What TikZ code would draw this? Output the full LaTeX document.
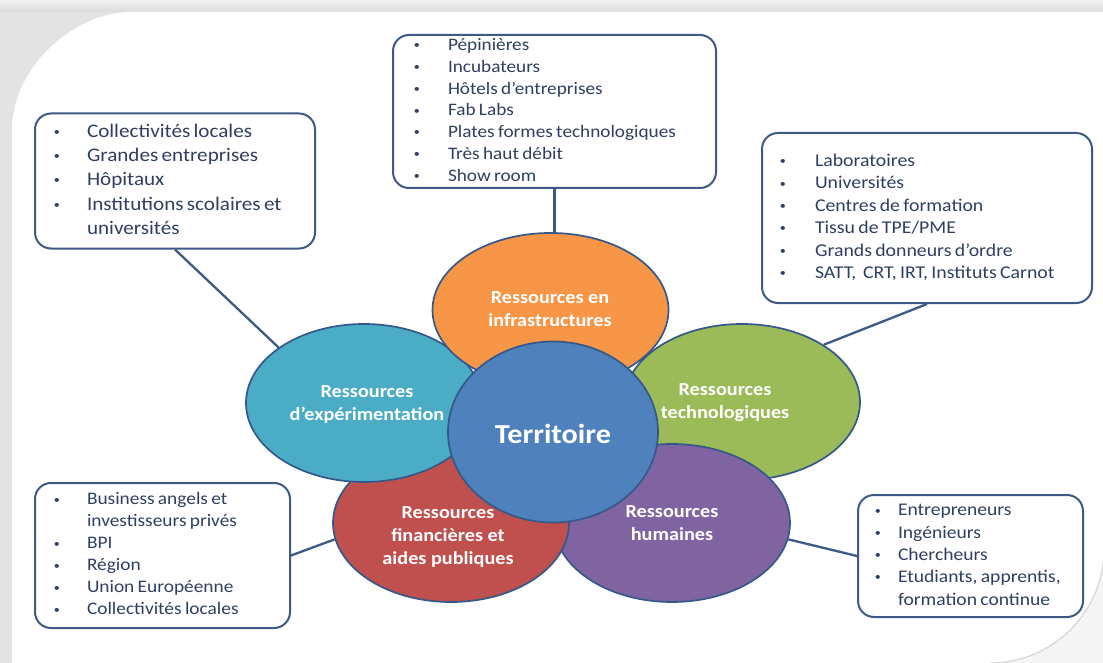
\documentclass[tikz,border=0pt]{standalone}
\usepackage{fontspec}
\setmainfont{Carlito}[FakeStretch=1.1]
\usetikzlibrary{shapes.geometric}
\definecolor{corange}{HTML}{F79646}
\definecolor{cteal}{HTML}{4BACC6}
\definecolor{cgreen}{HTML}{9BBB59}
\definecolor{cred}{HTML}{C0504D}
\definecolor{cpurple}{HTML}{8064A2}
\definecolor{cblue}{HTML}{4F81BD}
\definecolor{cline}{HTML}{35588A}
\definecolor{bline}{HTML}{3D5A86}
\definecolor{ltext}{HTML}{2E4062}
\newcommand\lfont[2]{\fontsize{#1}{#2}\selectfont}
\newcommand\bul{\makebox[0pt]{\raisebox{0.1em}{\fontsize{11}{11}\selectfont\textbullet}}}
\begin{document}
\begin{tikzpicture}[x=1pt,y=-1pt,
  res/.style={ellipse, draw=cline, line width=1.7pt, inner sep=0pt},
  restext/.style={text=white, font=\fontsize{18.4}{23}\selectfont\bfseries, align=center, inner sep=0pt},
  lbox/.style={draw=bline, line width=2pt, rounded corners=16pt, fill=white, inner xsep=0pt, inner ysep=0pt, align=left, text=ltext},
  conn/.style={draw=bline, line width=2.3pt}]
\useasboundingbox (0,0) rectangle (1103,663);
% background and frame
\fill[black!11] (0,0) rectangle (1103,663);
\fill[top color=black!5, bottom color=black!14] (0,0) rectangle (1103,12);
\fill[black!4] (960,520) rectangle (1103,663);
\fill[white] (12,663) -- (12,130) .. controls (12,64.9) and (77.1,12) .. (130,12) -- (1104,12) -- (1104,549) .. controls (1104,611.9) and (1052.9,663) .. (990,663) -- cycle;
\draw[black!16, line width=1.2pt] (1104,549) .. controls (1104,611.9) and (1052.9,663) .. (990,663);
% boxes
\node[lbox, text width=323pt, minimum height=153pt] (tb) at (554.5,111.5) {\noindent\lfont{17.5}{21.8}\begin{tabular}{@{\hspace*{24pt}}p{31pt}@{}l@{}}
\bul & Pépinières\\
\bul & Incubateurs\\
\bul & Hôtels d’entreprises\\
\bul & Fab Labs\\
\bul & Plates formes technologiques\\
\bul & Très haut débit\\
\bul & Show room
\end{tabular}};
\node[lbox, text width=280pt, minimum height=135pt] (tl) at (175,181) {\noindent\lfont{19.2}{24.3}\begin{tabular}{@{\hspace*{22pt}}p{30pt}@{}l@{}}
\bul & Collectivités locales\\
\bul & Grandes entreprises\\
\bul & Hôpitaux\\
\bul & Institutions scolaires et\\
 & universités
\end{tabular}};
\node[lbox, text width=330pt, minimum height=170pt] (rb) at (927,218) {\noindent\lfont{18}{22.4}\begin{tabular}{@{\hspace*{21pt}}p{32pt}@{}l@{}}
\bul & Laboratoires\\
\bul & Universités\\
\bul & Centres de formation\\
\bul & Tissu de TPE/PME\\
\bul & Grands donneurs d’ordre\\
\bul & SATT,\ \ CRT, IRT, Instituts Carnot
\end{tabular}};
\node[lbox, text width=255pt, minimum height=145pt] (bl) at (162.5,555.5) {\noindent\lfont{17.6}{22}\begin{tabular}{@{\hspace*{22pt}}p{30pt}@{}l@{}}
\bul & Business angels et\\
 & investisseurs privés\\
\bul & BPI\\
\bul & Région\\
\bul & Union Européenne\\
\bul & Collectivités locales
\end{tabular}};
\node[lbox, text width=225pt, minimum height=122pt] (br) at (970.5,556) {\noindent\lfont{17.8}{22.3}\begin{tabular}{@{\hspace*{20pt}}p{20pt}@{}l@{}}
\bul & Entrepreneurs\\
\bul & Ingénieurs\\
\bul & Chercheurs\\
\bul & Etudiants, apprentis,\\
 & formation continue
\end{tabular}};
% ellipses
\node[res, fill=cgreen, minimum width=236pt, minimum height=156pt] (gr) at (742,402) {};
\node[res, fill=cpurple, minimum width=236pt, minimum height=158pt] (pu) at (672,523) {};
\node[res, fill=cred, minimum width=236pt, minimum height=158pt] (re) at (451,523) {};
\node[res, fill=cteal, minimum width=236pt, minimum height=158pt] (te) at (364,403) {};
\node[res, fill=corange, minimum width=236pt, minimum height=154pt] (or) at (550.5,310) {};
\node[res, fill=cblue, minimum width=210pt, minimum height=181pt] (ce) at (553,432) {};
% connectors
\path[conn] (tb.south) -- (tb.south |- or.north);
\path[conn] (tl.south) -- (te.147);
\path[conn] (rb.south) -- (gr.35.5);
\path[conn] (bl.east) -- (re.188.6);
\path[conn] (br.west) -- (pu.-8.6);
% texts
\node[restext] (ort) at (550,309.5) {Ressources en\\infrastructures};
\node[restext] (tet) at (367,404.5) {Ressources\\d’expérimentation};
\node[restext] (grt) at (725,403) {Ressources\\technologiques};
\node[restext] (ret) at (448,537) {Ressources\\financières et\\aides publiques};
\node[restext] (put) at (672,523.5) {Ressources\\humaines};
\node[text=white, font=\fontsize{27.5}{30}\selectfont\bfseries, inner sep=0pt] (cet) at (553,434) {Territoire};
\end{tikzpicture}
\end{document}
